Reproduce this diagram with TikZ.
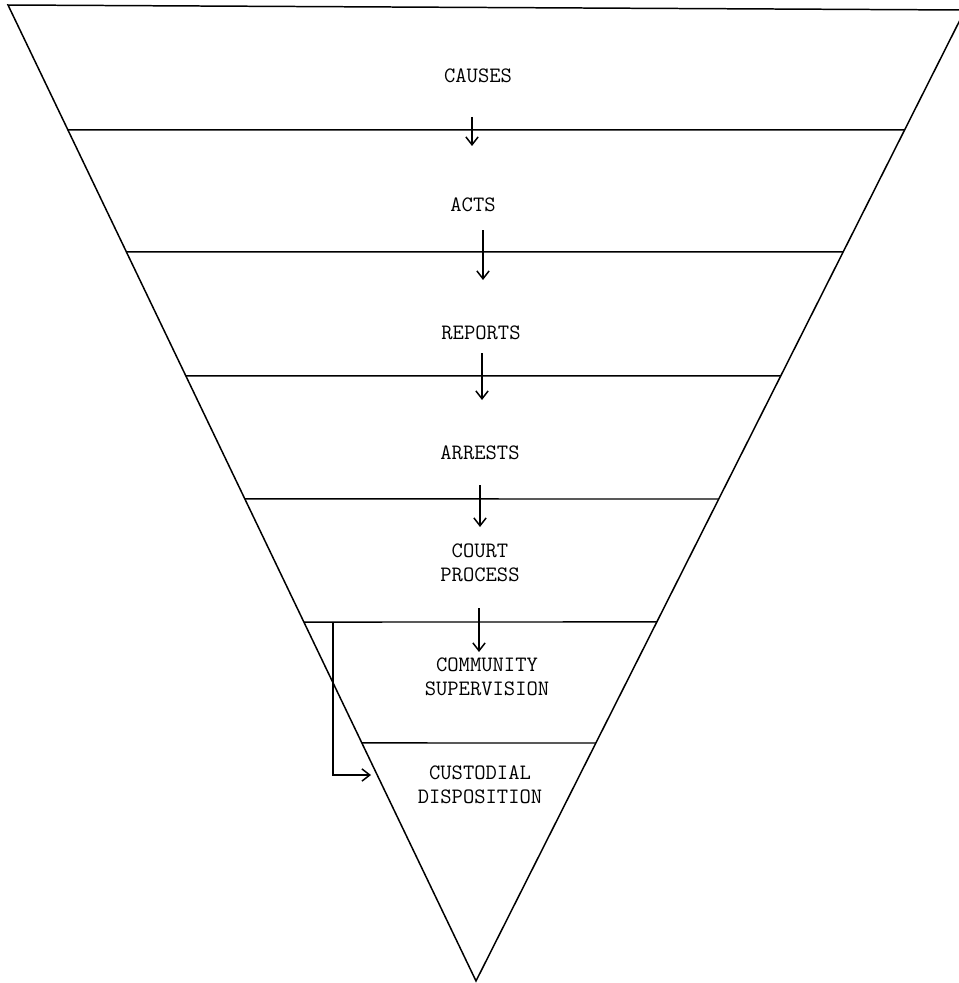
\documentclass[tikz,border=0pt]{standalone}
\usepackage{fontspec}
\usetikzlibrary{positioning,calc,arrows.meta}

\tikzset{
  stage/.style={font=\ttfamily\fontsize{12.5}{13.5}\selectfont, align=center, inner sep=1pt},
  flow/.style={-{Straight Barb[length=4.5pt,width=7pt]}}
}

\begin{document}
\begin{tikzpicture}[x=0.02cm, y=-0.02cm, line width=0.85pt]
	\useasboundingbox (0,0) rectangle (959,983);
	\coordinate (top_l) at (8,5);
	\coordinate (top_r) at (965,10);
	\coordinate (apex) at (476,981);
	\draw (top_l) -- (top_r) -- (apex) -- cycle;
	%\draw[thick] (top_l) -- (apex);
	\foreach \y/\i in {130/1, 252/2, 376/3, 499/4, 622/5, 743/6} {
		\draw ($(top_l)!{(\y-5)/976}!(apex)$) coordinate (l_\i) -- ($(top_r)!{(\y-10)/971}!(apex)$) coordinate (r_\i);
	}
	\node[stage] (causes) at (478,76) {CAUSES};
	\node[stage] (acts) at (473,205) {ACTS};
	\node[stage] (reports) at (481,333) {REPORTS};
	\node[stage] (arrests) at (480,453) {ARRESTS};
	\node[stage] (court) at (480,563) {COURT\\PROCESS};
	\node[stage] (community) at (487,677) {COMMUNITY\\SUPERVISION};
	\node[stage] (custodial) at (480,785) {CUSTODIAL\\DISPOSITION};
	\foreach \x/\a/\b/\n in {472/117/146/1, 483/230/280/2, 482/353/400/3, 480/485/527/4, 479/608/652/5} {
		\draw[flow] (\x,\a) coordinate (s_\n) -- (\x,\b) coordinate (e_\n);
	}
	\coordinate (split) at (333,622);
	\coordinate (into) at (371,775);
	\draw[flow] (split) |- (into);
\end{tikzpicture}
\end{document}
